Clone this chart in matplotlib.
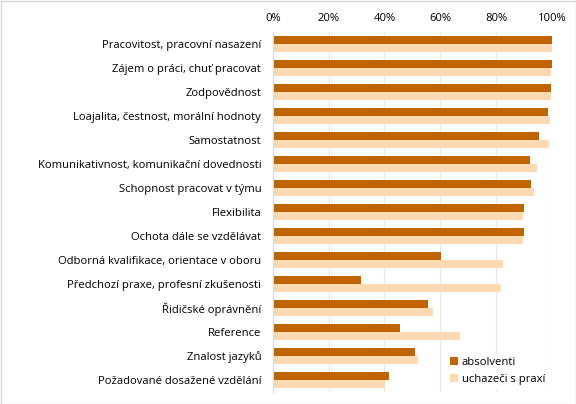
import matplotlib
matplotlib.use("Agg")
import matplotlib.pyplot as plt
from matplotlib.ticker import PercentFormatter
import numpy as np

categories = [
    "Pracovitost, pracovní nasazení",
    "Zájem o práci, chuť pracovat",
    "Zodpovědnost",
    "Loajalita, čestnost, morální hodnoty",
    "Samostatnost",
    "Komunikativnost, komunikační dovednosti",
    "Schopnost pracovat v týmu",
    "Flexibilita",
    "Ochota dále se vzdělávat",
    "Odborná kvalifikace, orientace v oboru",
    "Předchozí praxe, profesní zkušenosti",
    "Řidičské oprávnění",
    "Reference",
    "Znalost jazyků",
    "Požadované dosažené vzdělání",
]
absolventi = [100.0, 100.0, 99.6, 98.6, 95.3, 92.1, 92.5, 90.0, 90.0, 60.3, 31.6, 55.6, 45.6, 51.0, 41.6]
uchazeci = [100.0, 99.6, 99.6, 99.3, 98.9, 94.6, 93.6, 89.6, 89.6, 82.5, 81.7, 57.4, 67.1, 52.0, 40.2]
xticks = [0, 20, 40, 60, 80, 100]

plt.rcParams['font.family'] = ['Open Sans', 'DejaVu Sans']

fig = plt.figure(figsize=(5.76, 4.04), dpi=100)
ax = fig.add_axes([272.7/576, 1 - 392/404, (552 - 272.7)/576, 360/404])

n = len(categories)
y = np.arange(n)
h = 1/3
c_dark = "#C16400"
c_light = "#FED9B1"
ax.barh(y - h/2, absolventi, height=h, color=c_dark, label="absolventi", zorder=2)
ax.barh(y + h/2, uchazeci, height=h, color=c_light, label="uchazeči s praxí", zorder=2)

fs = 8.1
ax.set_ylim(n - 0.5, -0.5)
ax.set_xlim(0, 100)
ax.set_yticks(y)
ax.set_yticklabels(categories, fontsize=fs, color="#000000")
ax.set_xticks(xticks)
ax.xaxis.set_major_formatter(PercentFormatter(decimals=0))
ax.xaxis.tick_top()
ax.tick_params(axis='x', length=0, labelsize=fs, pad=6)
ax.tick_params(axis='y', length=0, pad=8.3)
ax.grid(axis='x', color="#E6E6E6", linewidth=0.8, zorder=0)
ax.set_axisbelow(True)
for s in ['top', 'right', 'bottom']:
    ax.spines[s].set_visible(False)
ax.spines['left'].set_color("#D9D9D9")
ax.spines['left'].set_linewidth(0.8)

leg = ax.legend(loc="lower right", bbox_to_anchor=(1.0, 0.0), frameon=True, fontsize=fs,
                handlelength=0.75, handleheight=0.75, handletextpad=0.35, labelspacing=0.55,
                borderpad=0.3, borderaxespad=0.3, fancybox=False)
leg.get_frame().set_edgecolor("white")
leg.get_frame().set_facecolor("white")
leg.get_frame().set_alpha(1)

fig.patches.append(plt.Rectangle((0.5/576, 0.5/404), 1 - 1/576, 1 - 1/404, transform=fig.transFigure,
                                 fill=False, edgecolor="#D9D9D9", linewidth=1))

fig.savefig("out.png", dpi=100)
